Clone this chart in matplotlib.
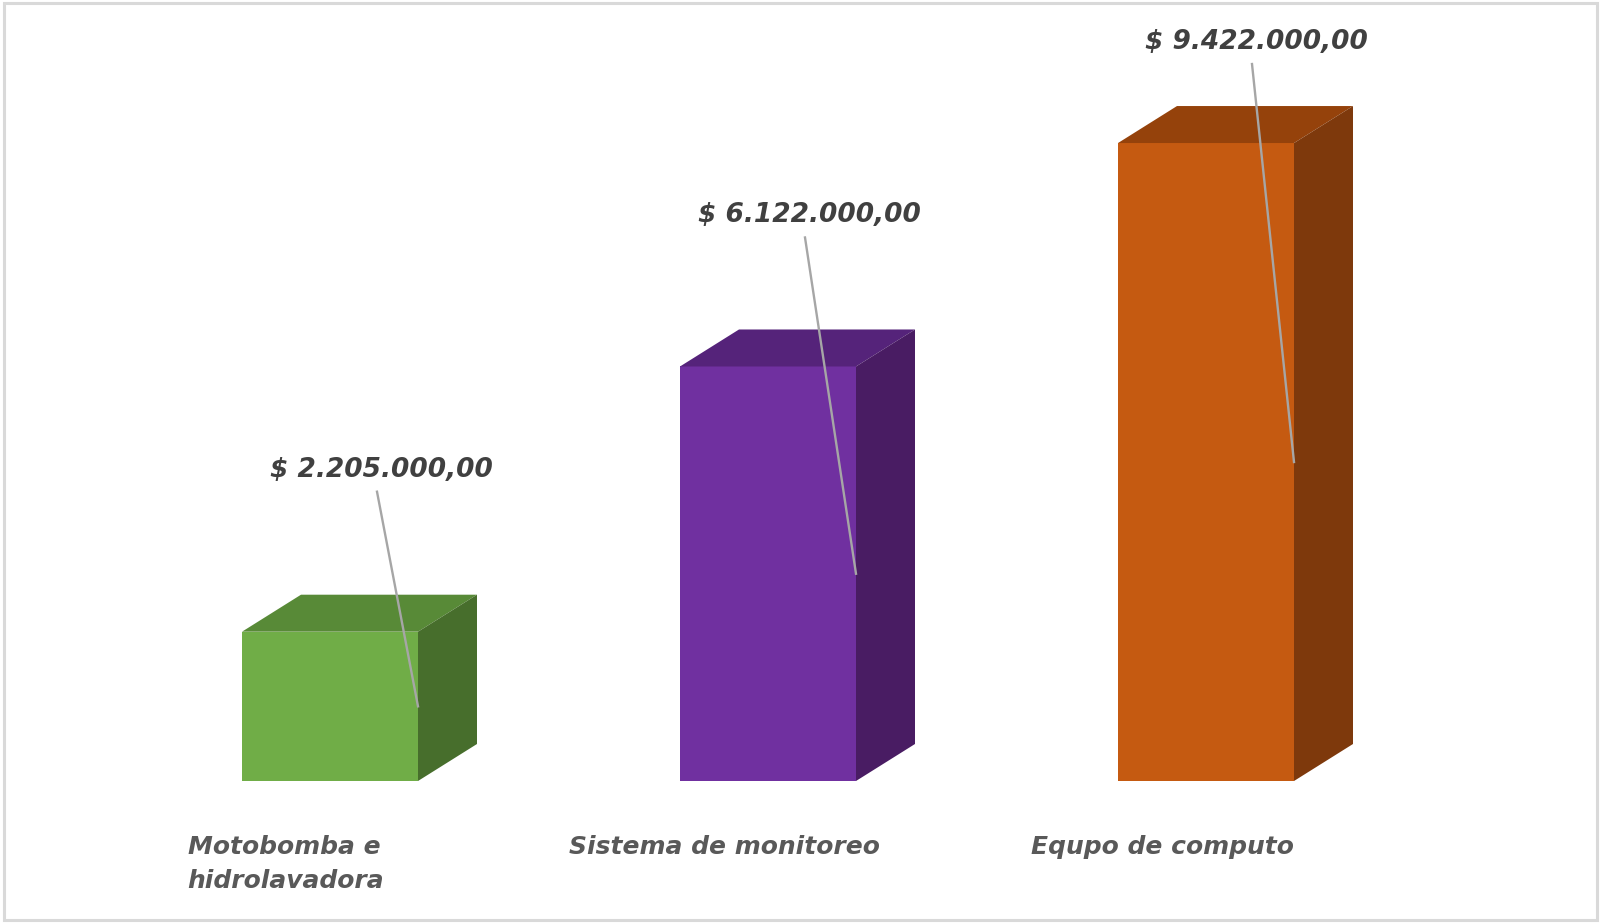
import matplotlib
matplotlib.use("Agg")
import matplotlib.pyplot as plt
from matplotlib.patches import Polygon, Rectangle
from matplotlib.transforms import offset_copy
from matplotlib.lines import Line2D

categories = ["Motobomba e\nhidrolavadora", "Sistema de monitoreo", "Equpo de computo"]
values = [2205000, 6122000, 9422000]
value_labels = ["$ 2.205.000,00", "$ 6.122.000,00", "$ 9.422.000,00"]

front_colors = ["#70AD47", "#7030A0", "#C55A11"]
top_colors = ["#588A37", "#55237A", "#95420B"]
side_colors = ["#476E2C", "#491C63", "#7E390C"]

W, H, DPI = 1604, 923, 100
fig = plt.figure(figsize=(W / DPI, H / DPI), dpi=DPI)
fig.patch.set_facecolor("white")

FONT = ["DejaVu Sans"]

# axes geometry in pixels
ax_left, ax_right = 111, 1425
ax_bottom_px = H - 781
ax_height_px = 677.1
ax = fig.add_axes([ax_left / W, ax_bottom_px / H, (ax_right - ax_left) / W, ax_height_px / H])
ax.set_xlim(-0.5, 2.5)
ax.set_ylim(0, 10000000)
ax.axis("off")

px_x = (ax_right - ax_left) / 3.0
px_y = ax_height_px / 10000000
depth_dx = 59 / px_x
depth_dy = 37 / px_y
bw = 176 / px_x

xs = list(range(len(categories)))
bars = ax.bar(xs, values, width=bw, color=front_colors, zorder=2, linewidth=0)

for i, (x, v) in enumerate(zip(xs, values)):
    x0, x1 = x - bw / 2, x + bw / 2
    top = Polygon([(x0, v), (x1, v), (x1 + depth_dx, v + depth_dy), (x0 + depth_dx, v + depth_dy)],
                  closed=True, facecolor=top_colors[i], edgecolor="none", zorder=2, clip_on=False)
    side = Polygon([(x1, 0), (x1 + depth_dx, depth_dy), (x1 + depth_dx, v + depth_dy), (x1, v)],
                   closed=True, facecolor=side_colors[i], edgecolor="none", zorder=2, clip_on=False)
    ax.add_patch(top)
    ax.add_patch(side)

# value labels with leader lines (offsets in pixels)
label_dx = [51, 41, 50]
label_dy = [162, 151, 101]
inv = ax.transData.inverted()
for i, (x, v) in enumerate(zip(xs, values)):
    tr = offset_copy(ax.transData, fig=fig, x=label_dx[i] / DPI, y=label_dy[i] / DPI, units="inches")
    ax.text(x, v, value_labels[i], transform=tr, ha="center", va="center",
            fontsize=19, fontweight="bold", fontstyle="italic", color="#404040",
            family=FONT, zorder=5)
    sx, sy = ax.transData.transform((x, v))
    start = (sx + label_dx[i] - 4, sy + label_dy[i] - 22)
    end = ax.transData.transform((x + bw / 2, v / 2))
    p0 = inv.transform(start)
    p1 = inv.transform(end)
    ax.add_line(Line2D([p0[0], p1[0]], [p0[1], p1[1]], color="#A6A6A6", lw=1.7, zorder=4, clip_on=False))

# category labels
for i, x in enumerate(xs):
    tr = offset_copy(ax.transData, fig=fig, x=-44 / DPI, y=-54 / DPI, units="inches")
    ax.text(x, 0, categories[i], transform=tr, ha="center", va="top", multialignment="left",
            fontsize=18, fontweight="bold", fontstyle="italic", color="#595959",
            family=FONT, linespacing=1.5)

# outer border
fig.patches.append(Rectangle((4 / W, 3 / H), (1597 - 4) / W, (920 - 3) / H, transform=fig.transFigure,
                             fill=False, edgecolor="#D9D9D9", linewidth=2.2))

fig.savefig("out.png", dpi=DPI, facecolor="white")
